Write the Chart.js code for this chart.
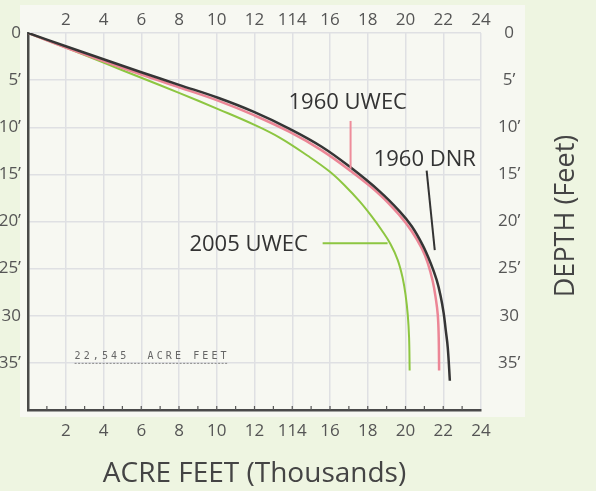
<!DOCTYPE html>
<html><head><meta charset="utf-8">
<script src="https://cdn.jsdelivr.net/npm/chart.js@4/dist/chart.umd.min.js"></script>
<style>
html,body{margin:0;padding:0;background:#eef5e1;width:596px;height:491px;overflow:hidden}
#panel{position:absolute;left:20px;top:5px;width:505px;height:412px;background:#f7f8f2}
#wrap{position:absolute;left:0;top:0;width:596px;height:491px}
</style></head><body>
<div id="panel"></div>
<div id="wrap"><canvas id="c" width="596" height="491"></canvas></div>
<script>
// ---- tick labels ----
const acreTickValues = [0, 2, 4, 6, 8, 10, 12, 14, 16, 18, 20, 22, 24];
const acreTickLabels = ["", "2", "4", "6", "8", "10", "12", "114", "16", "18", "20", "22", "24"];
const acreMinorTicks = [1, 2, 3, 4, 5, 6, 7, 8, 9, 10, 11, 12, 13, 14, 15, 16, 17, 18, 19, 20, 21, 22, 23];
const depthTickValues = [0, 5, 10, 15, 20, 25, 30, 35, 40];
const depthTickLabels = ["0", "5’", "10’", "15’", "20’", "25’", "30", "35’", ""];

// ---- series (acre feet in thousands, depth in feet) ----
const seriesNames = ["1960 DNR", "1960 UWEC", "2005 UWEC"];
const dnr1960Acre  = [0, 2, 4, 6, 8, 10.1, 12, 13.86, 15.56, 17.1, 18.63, 19.69, 20.33, 20.91, 21.33, 21.65, 21.86, 22.02, 22.13, 22.24, 22.35];
const dnr1960Depth = [0, 1.41, 2.78, 4.16, 5.5, 6.9, 8.4, 10.17, 12.07, 14.28, 16.8, 18.92, 20.5, 22.5, 24.4, 26.2, 27.9, 29.7, 31.5, 33.4, 36.9];
const uwec1960Acre  = [0, 2, 4, 6, 8, 10.1, 12, 13.86, 15.56, 17.1, 18.63, 19.69, 20.33, 20.86, 21.18, 21.44, 21.6, 21.71, 21.76, 21.78];
const uwec1960Depth = [0, 1.55, 2.98, 4.4, 5.75, 7.2, 8.75, 10.5, 12.45, 14.65, 17.13, 19.35, 21.03, 22.83, 24.41, 26.31, 28.1, 29.9, 32.3, 35.8];
const uwec2005Acre  = [0, 2, 4, 6, 8, 10.1, 12, 13.33, 14.8, 15.98, 16.78, 17.57, 18.21, 18.74, 19.21, 19.59, 19.85, 20.01, 20.12, 20.19, 20.22];
const uwec2005Depth = [0, 1.55, 3.15, 4.75, 6.35, 8.1, 9.75, 11.1, 13.0, 14.7, 16.18, 17.87, 19.46, 20.93, 22.41, 24.09, 25.99, 27.89, 29.9, 32.32, 35.8];
const totalNote = "22,545  ACRE FEET";

function pts(xs, ys) { return xs.map((x, i) => ({x: x, y: ys[i]})); }

// callouts (in data coordinates)
const callouts = [
  {text: "1960 UWEC", x: 16.94, y: 7.35, color: "#333"},
  {text: "1960 DNR", x: 21.02, y: 13.45, color: "#333"},
  {text: "2005 UWEC", x: 11.69, y: 22.5, color: "#333"}
];
const leaders = [
  {x1: 17.09, y1: 9.33, x2: 17.09, y2: 14.4, color: "#ee8d9b"},
  {x1: 21.12, y1: 14.6, x2: 21.55, y2: 23.04, color: "#333"},
  {x1: 15.61, y1: 22.3, x2: 19.05, y2: 22.3, color: "#8dc641"}
];

const FONT = "'Open Sans', 'Noto Sans', sans-serif";

const decor = {
  id: 'decor',
  afterDatasetsDraw(chart) {
    const ctx = chart.ctx, sx = chart.scales.x, sy = chart.scales.y;
    ctx.save();
    // minor ticks on the bottom axis
    ctx.strokeStyle = '#555'; ctx.lineWidth = 1.2;
    const by = chart.chartArea.bottom;
    acreMinorTicks.forEach(v => {
      const px = sx.getPixelForValue(v);
      ctx.beginPath(); ctx.moveTo(px, by); ctx.lineTo(px, by - 4); ctx.stroke();
    });
    leaders.forEach(l => {
      ctx.strokeStyle = l.color; ctx.lineWidth = 2;
      ctx.beginPath();
      ctx.moveTo(sx.getPixelForValue(l.x1), sy.getPixelForValue(l.y1));
      ctx.lineTo(sx.getPixelForValue(l.x2), sy.getPixelForValue(l.y2));
      ctx.stroke();
    });
    ctx.font = "22px " + FONT;
    ctx.textAlign = 'center'; ctx.textBaseline = 'middle';
    callouts.forEach(c => {
      ctx.fillStyle = c.color;
      ctx.fillText(c.text, sx.getPixelForValue(c.x), sy.getPixelForValue(c.y));
    });
    // total note
    ctx.font = "10px 'DejaVu Sans Mono', monospace";
    ctx.letterSpacing = "3.1px";
    ctx.fillStyle = "#666"; ctx.textAlign = 'left';
    const nx = sx.getPixelForValue(2.47), ny = sy.getPixelForValue(34.35);
    ctx.fillText(totalNote, nx, ny);
    ctx.letterSpacing = "0px";
    ctx.strokeStyle = "#888"; ctx.lineWidth = 1; ctx.setLineDash([2, 1.5]);
    ctx.beginPath();
    const uy = sy.getPixelForValue(35.05);
    ctx.moveTo(nx, uy); ctx.lineTo(sx.getPixelForValue(10.6), uy); ctx.stroke();
    ctx.setLineDash([]);
    // right axis title
    ctx.font = "27px " + FONT;
    ctx.fillStyle = "#444"; ctx.textAlign = 'center';
    ctx.translate(566, 216); ctx.rotate(-Math.PI / 2);
    ctx.fillText("DEPTH (Feet)", 0, 0);
    ctx.restore();
  }
};

const acreCb = v => { const i = acreTickValues.indexOf(v); return i >= 0 ? acreTickLabels[i] : ''; };
const depthCb = v => { const i = depthTickValues.indexOf(v); return i >= 0 ? depthTickLabels[i] : ''; };
const tickFont = {family: FONT, size: 17};
const gridColor = '#dfe0e3';

new Chart(document.getElementById('c'), {
  type: 'scatter',
  data: {
    datasets: [
      {label: seriesNames[0], data: pts(dnr1960Acre, dnr1960Depth), borderColor: '#353535', borderWidth: 2.5},
      {label: seriesNames[1], data: pts(uwec1960Acre, uwec1960Depth), borderColor: '#ec8696', borderWidth: 2.5},
      {label: seriesNames[2], data: pts(uwec2005Acre, uwec2005Depth), borderColor: '#8dc641', borderWidth: 2}
    ].map(d => Object.assign(d, {showLine: true, pointRadius: 0, tension: 0.4, fill: false}))
  },
  options: {
    responsive: false, animation: false, devicePixelRatio: 1,
    layout: {padding: 0},
    plugins: {legend: {display: false}, tooltip: {enabled: false}},
    scales: {
      x: {
        type: 'linear', position: 'bottom', min: 0, max: 24,
        afterBuildTicks: s => { s.ticks = acreTickValues.map(v => ({value: v})); },
        afterFit: s => { s.height = 81; },
        ticks: {callback: acreCb, font: tickFont, color: '#555', padding: 11, maxRotation: 0, autoSkip: false},
        grid: {color: gridColor, lineWidth: 1.5, drawTicks: false},
        border: {color: '#4a4a4a', width: 2.5},
        title: {display: true, text: 'ACRE FEET (Thousands)', font: {family: FONT, size: 28}, color: '#444', padding: {top: 0, bottom: 0}}
      },
      x2: {
        type: 'linear', position: 'top', min: 0, max: 24,
        afterBuildTicks: s => { s.ticks = acreTickValues.map(v => ({value: v})); },
        afterFit: s => { s.height = 33; },
        ticks: {callback: acreCb, font: tickFont, color: '#555', padding: 3, maxRotation: 0, autoSkip: false},
        grid: {display: false, drawTicks: false},
        border: {display: false}
      },
      y: {
        type: 'linear', position: 'left', min: 0, max: 40, reverse: true,
        afterBuildTicks: s => { s.ticks = depthTickValues.map(v => ({value: v})); },
        afterFit: s => { s.width = 28; },
        ticks: {callback: depthCb, font: tickFont, color: '#555', padding: 7, autoSkip: false},
        grid: {color: gridColor, lineWidth: 1.5, drawTicks: false},
        border: {color: '#4a4a4a', width: 2.5}
      },
      y2: {
        type: 'linear', position: 'right', min: 0, max: 40, reverse: true,
        afterBuildTicks: s => { s.ticks = depthTickValues.map(v => ({value: v})); },
        afterFit: s => { s.width = 115; },
        ticks: {callback: depthCb, font: tickFont, color: '#555', padding: 17, crossAlign: 'center', autoSkip: false},
        grid: {display: false, drawTicks: false},
        border: {display: false}
      }
    }
  },
  plugins: [decor]
});
</script>
</body></html>
